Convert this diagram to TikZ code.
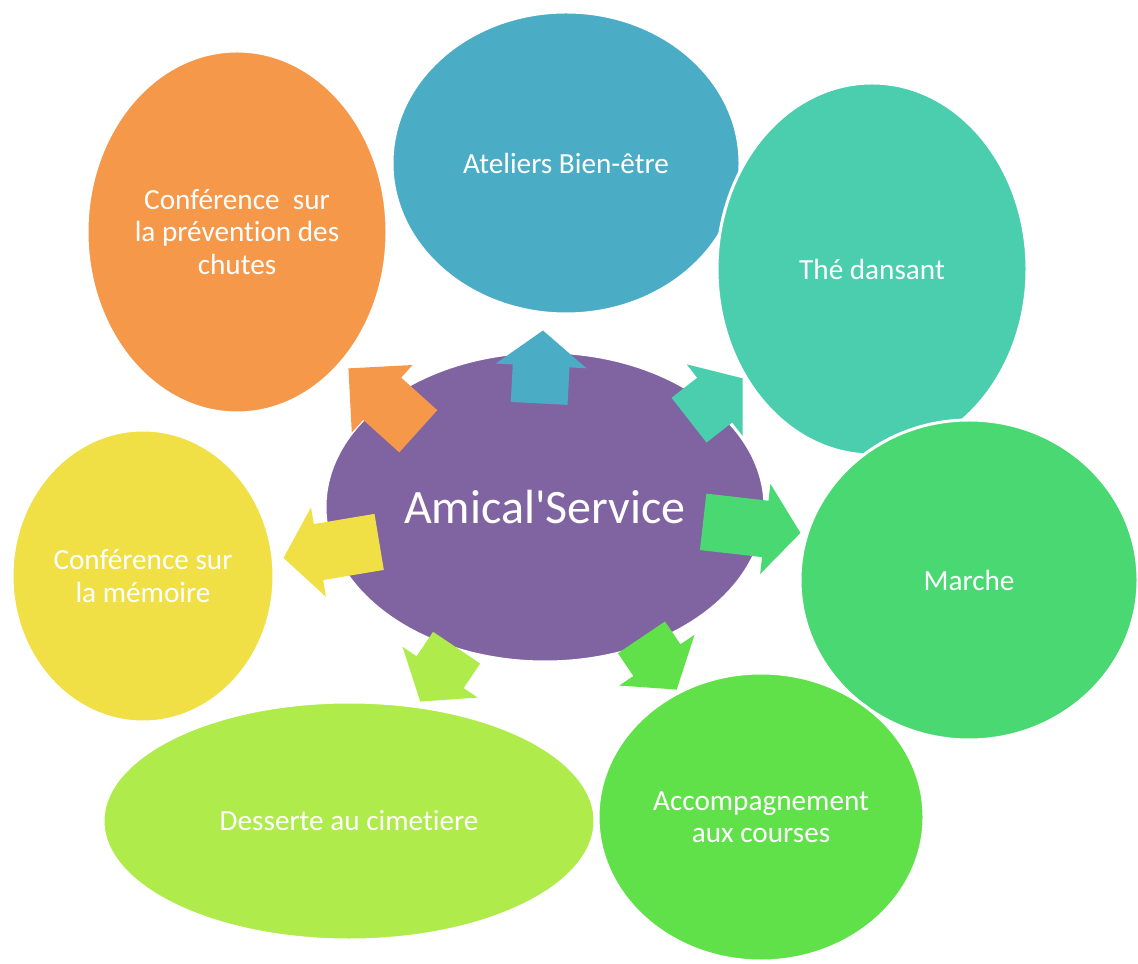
\documentclass[tikz,border=0pt]{standalone}
\usepackage{fontspec}
\setmainfont{Carlito}[Ligatures=NoCommon]
\usetikzlibrary{shapes.geometric,shapes.arrows}
\definecolor{hubpurple}{RGB}{128,100,162}
\definecolor{chutesorange}{RGB}{246,152,74}
\definecolor{ateliersblue}{RGB}{75,172,198}
\definecolor{theteal}{RGB}{74,206,174}
\definecolor{marchegreen}{RGB}{74,216,114}
\definecolor{coursesgreen}{RGB}{96,225,74}
\definecolor{dessertelime}{RGB}{175,235,74}
\definecolor{memoireyellow}{RGB}{240,224,70}
\tikzset{
    bubble/.style = {ellipse, draw=white, line width=1.5pt, inner sep=0pt, text=white, align=center, font=\fontsize{14.6}{16.2}\selectfont},
    hub/.style = {bubble, fill=hubpurple, minimum width=220pt, minimum height=155pt, font=\fontsize{24}{28}\selectfont},
    spoke/.style = {single arrow, anchor=tip, inner xsep=0pt, inner ysep=14pt, single arrow head extend=8.5pt, single arrow tip angle=104},
}

\begin{document}
\begin{tikzpicture}[x=0.5pt, y=0.5pt]
\useasboundingbox (0,0) rectangle (1138,963);
% centre
\node [hub] (hub) at (545,456) {Amical\textquotesingle Service};
% activities
\node [bubble, fill=chutesorange, minimum width=150pt, minimum height=181pt] (chutes) at (237,731) {Conférence\ \ sur\\la prévention des\\chutes};
\node [bubble, fill=ateliersblue, minimum width=174pt, minimum height=151pt] (ateliers) at (566,800) {Ateliers Bien-être};
\node [bubble, fill=theteal, minimum width=155pt, minimum height=186pt] (the) at (872,694) {Thé dansant};
\node [bubble, fill=marchegreen, minimum width=169pt, minimum height=160pt] (marche) at (969,383) {Marche};
\node [bubble, fill=coursesgreen, minimum width=163pt, minimum height=144pt] (courses) at (761,146) {Accompagnement\\aux courses};
\node [bubble, fill=dessertelime, minimum width=246pt, minimum height=119pt] (desserte) at (349,142) {Desserte au cimetiere};
\node [bubble, fill=memoireyellow, minimum width=131pt, minimum height=146pt] (memoire) at (143,387) {Conférence sur\\la mémoire};
% arrows out of the centre
\node [spoke, fill=chutesorange, rotate=138, minimum height=47pt, single arrow tip angle=90] (toChutes) at (348,595) {};
\node [spoke, fill=ateliersblue, rotate=87, minimum height=36.5pt] (toAteliers) at (543,633) {};
\node [spoke, fill=theteal, rotate=38, minimum height=34pt] (toThe) at (743,585) {};
\node [spoke, fill=marchegreen, rotate=-6.5, minimum height=49pt] (toMarche) at (801,430) {};
\node [spoke, fill=coursesgreen, rotate=-56, minimum height=31.5pt] (toCourses) at (677,273) {};
\node [spoke, fill=dessertelime, rotate=236, minimum height=32.5pt] (toDesserte) at (420,261) {};
\node [spoke, fill=memoireyellow, rotate=189.5, minimum height=48.5pt] (toMemoire) at (283,405) {};
\end{tikzpicture}
\end{document}
